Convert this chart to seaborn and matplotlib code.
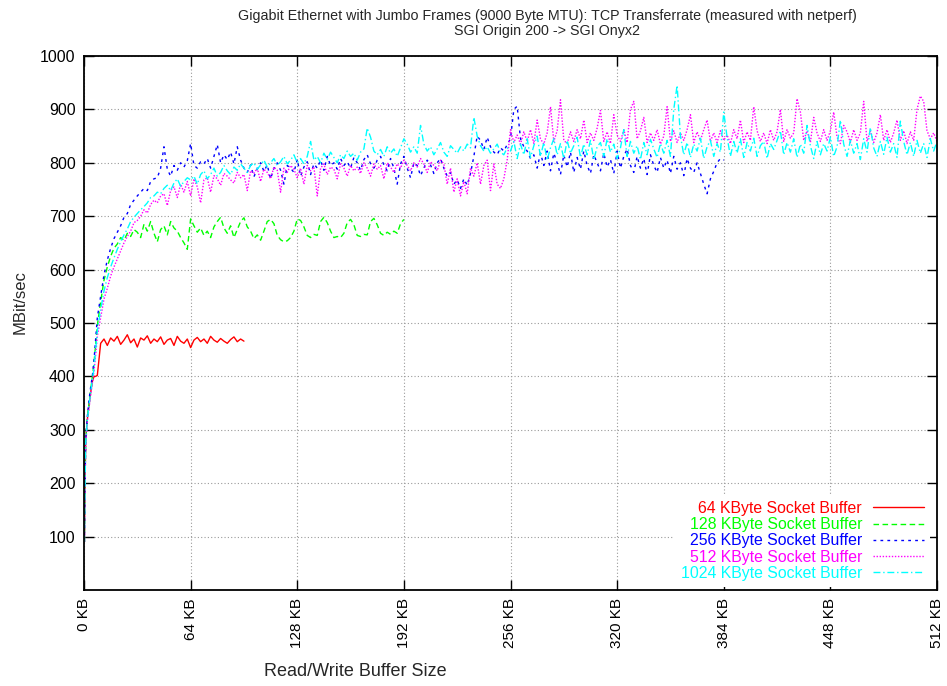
import matplotlib
matplotlib.use("Agg")
import matplotlib.pyplot as plt
import seaborn as sns
import pandas as pd

# ---------------- data (MBit/sec) ----------------
# x grid in KB: fine steps during the initial ramp, then every 2 KB
x_grid = [0.25, 0.5, 1, 2, 3, 4, 5, 6, 7, 8] + list(range(10, 513, 2))

series_labels = ["64 KByte Socket Buffer", "128 KByte Socket Buffer",
                 "256 KByte Socket Buffer", "512 KByte Socket Buffer",
                 "1024 KByte Socket Buffer"]

buf_64 = [90, 170, 280, 320, 345, 370, 390, 400, 400, 402,
          462, 470, 458, 472, 466, 475, 460, 468, 478, 463,
          470, 455, 472, 468, 476, 462, 470, 465, 474, 460,
          468, 471, 458, 475, 466, 462, 470, 454, 468, 473,
          465, 470, 462, 475, 468, 464, 471, 466, 462, 469,
          474, 465, 470, 466]

buf_128 = [90, 170, 280, 322, 350, 375, 398, 425, 460, 495,
           540, 580, 605, 625, 640, 648, 660, 655, 668, 662,
           675, 670, 660, 685, 672, 690, 668, 652, 675, 682,
           665, 690, 678, 672, 660, 650, 638, 695, 682, 670,
           678, 664, 672, 660, 680, 690, 698, 678, 668, 682,
           660, 675, 690, 697, 680, 672, 658, 665, 655, 672,
           690, 694, 686, 664, 656, 652, 654, 660, 672, 695,
           692, 680, 664, 660, 666, 664, 690, 698, 688, 672,
           660, 662, 660, 668, 688, 694, 684, 664, 662, 666,
           665, 690, 696, 684, 668, 664, 670, 666, 672, 668,
           686, 694]

buf_256 = [90, 170, 280, 325, 355, 380, 400, 430, 470, 510,
           550, 590, 618, 640, 658, 670, 682, 698, 705, 722,
           730, 738, 745, 752, 748, 765, 770, 772, 790, 830,
           788, 775, 795, 786, 800, 792, 804, 836, 795, 790,
           802, 798, 808, 790, 812, 834, 800, 815, 806, 820,
           798, 830, 805, 790, 782, 796, 774, 788, 800, 784,
           796, 770, 790, 800, 786, 760, 795, 790, 782, 806,
           775, 792, 802, 778, 798, 790, 805, 786, 812, 795,
           800, 788, 808, 795, 802, 790, 810, 800, 786, 806,
           815, 798, 790, 805, 812, 796, 785, 808, 790, 760,
           798, 812, 790, 772, 800, 795, 776, 790, 805, 796,
           780, 800, 808, 790, 775, 782, 760, 768, 752, 770,
           758, 780, 812, 850, 842, 825, 848, 830, 820, 815,
           828, 822, 834, 845, 900, 906, 845, 830, 822, 808,
           815, 790, 818, 795, 822, 785, 818, 800, 778, 815,
           792, 820, 782, 810, 788, 822, 795, 780, 815, 800,
           785, 818, 792, 806, 780, 822, 790, 812, 826, 795,
           782, 812, 790, 808, 778, 815, 795, 782, 810, 790,
           805, 780, 812, 788, 800, 776, 808, 790, 782, 800,
           780, 760, 742, 770, 784, 800, 808, 805]

buf_512 = [90, 160, 270, 315, 340, 365, 388, 410, 440, 475,
           510, 545, 565, 588, 605, 620, 635, 650, 662, 672,
           688, 692, 700, 712, 706, 722, 730, 725, 738, 742,
           720, 748, 755, 735, 760, 745, 765, 738, 770, 755,
           725, 768, 772, 745, 776, 770, 758, 780, 775, 768,
           762, 782, 772, 778, 748, 785, 780, 790, 765, 788,
           782, 770, 792, 786, 745, 790, 782, 795, 788, 772,
           790, 760, 795, 785, 792, 738, 790, 798, 778, 792,
           788, 770, 798, 790, 775, 795, 785, 792, 780, 800,
           790, 775, 798, 788, 795, 770, 800, 792, 782, 798,
           790, 805, 795, 785, 800, 792, 808, 798, 782, 802,
           795, 785, 805, 798, 760, 790, 745, 770, 738, 765,
           742, 790, 775, 800, 760, 795, 805, 748, 798, 760,
           752, 770, 805,
           862, 838, 852, 835, 858, 840, 862, 836, 880, 845,
           835, 856, 905, 840, 860, 918, 842, 836, 858, 840,
           862, 845, 880, 838, 856, 842, 865, 898, 840, 858,
           836, 890, 852, 840, 862, 838, 900, 915, 845, 860,
           885, 838, 856, 842, 862, 835, 850, 905, 840, 860,
           838, 856, 842, 862, 890, 838, 858, 842, 862, 880,
           840, 856, 838, 860, 842, 852, 836, 862, 845, 880,
           838, 858, 842, 905, 860, 840, 856, 836, 862, 842,
           858, 900, 840, 862, 846, 856, 920, 895, 842, 860,
           838, 885, 856, 840, 862, 842, 860, 895, 848, 836,
           870, 858, 838, 862, 842, 856, 915, 840, 860, 838,
           856, 890, 842, 862, 838, 856, 880, 842, 860, 836,
           858, 842, 900, 925, 915, 860, 845, 856, 840]

buf_1024 = [90, 165, 275, 318, 345, 370, 392, 415, 450, 485,
            525, 560, 585, 605, 622, 638, 652, 665, 676, 690,
            698, 705, 712, 718, 725, 735, 738, 745, 742, 752,
            758, 748, 762, 770, 756, 765, 772, 768, 775, 760,
            778, 785, 770, 778, 790, 775, 782, 795, 785, 778,
            792, 786, 798, 790, 782, 795, 800, 788, 796, 805,
            792, 800, 808, 795, 802, 812, 798, 805, 815, 800,
            808, 798, 812, 840, 805, 812, 800, 818, 806, 820,
            810, 800, 815, 808, 822, 812, 818, 805, 820, 826,
            865, 848, 822, 815, 825, 812, 830, 818, 826, 812,
            828, 845, 835, 820, 830, 818, 870, 835, 822, 830,
            815, 826, 838, 820, 812, 832, 825, 818, 830, 822,
            835, 828, 885, 850, 832, 822, 830, 818, 826, 835,
            820, 815, 828,
            822, 840, 808, 835, 815, 845, 810, 832, 850, 812,
            838, 805, 828, 845, 815, 836, 808, 842, 818, 832,
            848, 810, 835, 815, 842, 806, 830, 838, 812, 845,
            820, 835, 808, 828, 862, 812, 840, 818, 832, 806,
            838, 815, 844, 826, 810, 836, 818, 842, 812, 900,
            945, 850, 815, 838, 810, 835, 822, 846, 808, 830,
            842, 812, 836, 820, 895, 848, 812, 840, 818, 845,
            810, 838, 822, 846, 812, 832, 840, 808, 836, 825,
            842, 860, 815, 838, 820, 845, 810, 835, 818, 870,
            832, 808, 840, 815, 836, 822, 848, 812, 830, 880,
            835, 812, 842, 818, 836, 806, 845, 820, 866, 828,
            812, 840, 816, 848, 820, 836, 810, 878, 840, 815,
            838, 812, 842, 818, 836, 810, 845, 822, 840]

x_ticks = [0, 64, 128, 192, 256, 320, 384, 448, 512]
x_tick_labels = [f"{v} KB" for v in x_ticks]
y_ticks = [100, 200, 300, 400, 500, 600, 700, 800, 900, 1000]

# ---------------- styling ----------------
sns.set_theme(style="white")
plt.rcParams['font.family'] = ['Liberation Sans', 'DejaVu Sans']

colors = ["#ff0000", "#00ff00", "#0000ff", "#ff00ff", "#00ffff"]
styles = ["-", (0, (4, 2.5)), (0, (2, 3)), (0, (1, 1.2)), (0, (5, 2, 1, 2))]
all_series = [buf_64, buf_128, buf_256, buf_512, buf_1024]

fig = plt.figure(figsize=(9.47, 6.86), dpi=100)
ax = fig.add_axes([84 / 947, 1 - 590 / 686, 853 / 947, 534 / 686])

for vals, lab, col, ls in zip(all_series, series_labels, colors, styles):
    df = pd.DataFrame({"x": x_grid[:len(vals)], "y": vals})
    sns.lineplot(data=df, x="x", y="y", ax=ax, color=col, linewidth=1.0,
                 label=lab, estimator=None, errorbar=None, sort=False)
    ax.lines[-1].set_linestyle(ls)

ax.set_xlim(0, 512)
ax.set_ylim(0, 1000)
ax.set_xticks(x_ticks)
ax.set_xticklabels(x_tick_labels, rotation=90, fontsize=11)
ax.set_yticks(y_ticks)
ax.set_yticklabels([str(v) for v in y_ticks], fontsize=11.5)
ax.tick_params(direction='in', length=7, width=1, top=True, right=True,
               bottom=True, left=True, colors='black', pad=6)
for s in ax.spines.values():
    s.set_color('black')
    s.set_linewidth(1.3)

ax.set_axisbelow(True)
ax.grid(True, color='#9a9a9a', linestyle=(0, (1, 2)), linewidth=0.8)

ax.set_xlabel("Read/Write Buffer Size", fontsize=13)
ax.xaxis.set_label_coords((355 - 84) / 853, (590 - 672) / 534)
ax.xaxis.label.set_va('center')
ax.set_ylabel("MBit/sec", fontsize=12)
ax.yaxis.set_label_coords((20 - 84) / 853, (590 - 302) / 534)
ax.yaxis.label.set_va('center')

fig.text(547 / 947, 1 - 16 / 686,
         "Gigabit Ethernet with Jumbo Frames (9000 Byte MTU): TCP Transferrate (measured with netperf)",
         ha='center', va='center', fontsize=10.3)
fig.text(547 / 947, 1 - 31 / 686, "SGI Origin 200 -> SGI Onyx2",
         ha='center', va='center', fontsize=10.3)

leg = ax.legend(loc='lower right', bbox_to_anchor=(0.992, 0.005),
                markerfirst=False, labelcolor='linecolor', frameon=True,
                fancybox=False, edgecolor='none', facecolor='white',
                framealpha=1, fontsize=11.4, handlelength=3.2,
                handletextpad=0.7, labelspacing=0.08, borderpad=0.4,
                borderaxespad=0)

fig.savefig("out.png", dpi=100)
